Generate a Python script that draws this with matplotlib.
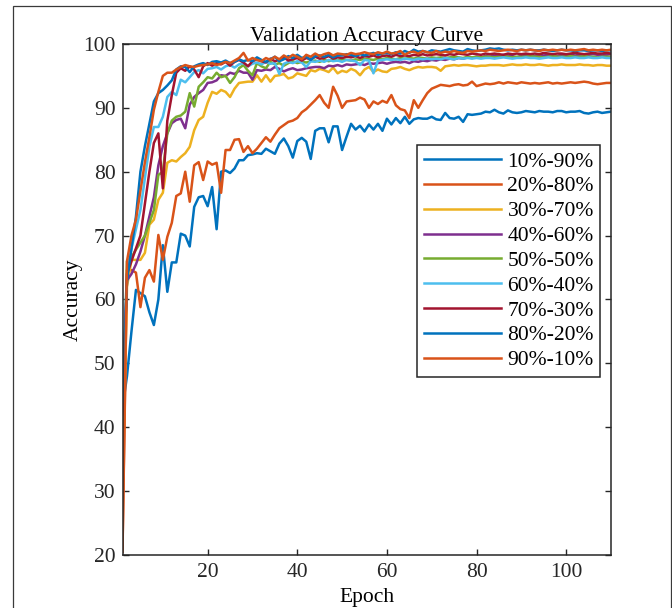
import numpy as np
import matplotlib
matplotlib.use("Agg")
import matplotlib.pyplot as plt
from matplotlib.patches import Rectangle

plt.rcParams['font.family'] = ['Liberation Serif', 'DejaVu Serif']

# validation accuracy per epoch
epochs = np.arange(1, 111)

acc_10_90 = [
    43.0, 48.0, 55.0, 61.5, 61.0, 60.5, 58.0, 56.0, 60.0, 68.5,
    61.2, 65.8, 65.8, 70.3, 70.0, 68.3, 74.5, 76.0, 76.2, 74.6,
    77.6, 71.0, 80.0, 80.2, 79.8, 80.5, 81.8, 81.8, 82.6, 82.7,
    82.9, 82.8, 83.6, 83.2, 82.8, 84.4, 85.2, 84.0, 82.2, 84.8,
    85.3, 84.7, 82.0, 86.4, 86.8, 86.8, 84.6, 87.1, 87.1, 83.4,
    85.5, 87.5, 86.6, 87.2, 86.3, 87.4, 86.6, 87.5, 86.4, 88.3,
    87.4, 88.4, 87.6, 88.6, 87.5, 88.2, 88.4, 88.3, 88.3, 88.6,
    88.2, 88.1, 89.2, 88.4, 88.3, 88.6, 87.8, 89.0, 88.9, 89.0,
    89.1, 89.4, 89.3, 89.7, 89.3, 89.1, 89.6, 89.3, 89.2, 89.3,
    89.5, 89.4, 89.3, 89.5, 89.4, 89.4, 89.3, 89.5, 89.5, 89.3,
    89.4, 89.4, 89.5, 89.2, 89.1, 89.3, 89.4, 89.2, 89.3, 89.4]

acc_20_80 = [
    20.5, 64.6, 64.6, 64.2, 58.8, 63.4, 64.6, 62.8, 70.1, 66.2,
    69.8, 72.0, 76.2, 76.6, 80.0, 75.3, 81.0, 81.5, 78.7, 81.6,
    81.1, 81.4, 76.7, 83.4, 83.4, 85.0, 85.1, 83.1, 84.0, 82.9,
    83.6, 84.5, 85.4, 84.7, 85.8, 86.8, 87.3, 87.8, 88.0, 88.4,
    89.3, 89.8, 90.5, 91.2, 92.0, 90.8, 90.0, 93.3, 91.9, 90.0,
    91.0, 91.1, 91.2, 91.6, 91.3, 90.0, 91.0, 90.6, 91.1, 90.8,
    92.0, 90.4, 89.8, 89.6, 88.4, 91.2, 90.0, 91.2, 92.3, 93.0,
    93.3, 93.6, 93.5, 93.4, 93.6, 93.7, 93.5, 93.6, 94.1, 93.4,
    93.6, 93.8, 93.7, 93.8, 94.0, 93.8, 94.0, 93.9, 93.8, 94.0,
    93.9, 93.8, 93.9, 93.8, 93.9, 94.0, 93.8, 93.9, 93.8, 93.9,
    94.0, 93.9, 94.0, 94.1, 94.0, 93.8, 93.7, 93.8, 93.9, 93.9]

acc_30_70 = [
    30.0, 62.0, 66.2, 66.2, 66.2, 67.3, 71.7, 72.5, 75.6, 76.7,
    81.4, 81.8, 81.6, 82.3, 82.9, 83.9, 86.5, 88.1, 88.6, 90.8,
    92.5, 92.2, 92.8, 92.5, 91.7, 93.0, 93.9, 94.0, 94.1, 94.1,
    95.1, 94.1, 95.1, 94.1, 95.0, 95.1, 95.3, 94.6, 94.8, 95.4,
    95.2, 95.0, 95.9, 95.7, 96.1, 95.9, 95.6, 96.3, 95.4, 95.8,
    95.6, 96.1, 95.8, 95.1, 96.0, 96.4, 95.6, 96.0, 95.7, 95.6,
    96.1, 96.2, 96.4, 96.1, 95.9, 96.2, 96.4, 96.3, 96.4, 96.4,
    96.3, 95.8, 96.5, 96.6, 96.7, 96.6, 96.7, 96.7, 96.6, 96.5,
    96.6, 96.6, 96.7, 96.7, 96.7, 96.6, 96.7, 96.8, 96.7, 96.7,
    96.8, 96.7, 96.7, 96.8, 96.7, 96.6, 96.7, 96.7, 96.8, 96.7,
    96.7, 96.7, 96.8, 96.7, 96.7, 96.6, 96.7, 96.7, 96.6, 96.6]

acc_40_60 = [
    43.0, 63.0, 64.0, 65.5, 67.5, 70.0, 73.0, 76.0, 81.0, 84.0,
    86.0, 87.6, 88.1, 88.3, 86.8, 90.5, 91.7, 92.3, 92.8, 93.9,
    94.0, 94.3, 95.1, 95.0, 95.5, 95.3, 95.8, 95.5, 95.5, 94.4,
    95.9, 95.8, 96.0, 95.9, 96.4, 96.1, 95.7, 96.0, 96.2, 95.9,
    96.0, 96.2, 96.3, 96.4, 96.4, 96.2, 96.6, 96.5, 96.7, 96.5,
    96.8, 96.7, 96.8, 96.9, 96.7, 97.0, 96.9, 97.0, 97.1, 96.9,
    97.1, 97.2, 97.1, 97.2, 97.0, 97.3, 97.2, 97.4, 97.3, 97.5,
    97.4, 97.6, 97.5, 97.7, 97.6, 97.8, 97.7, 97.9, 97.8, 98.0,
    97.9, 98.1, 98.0, 98.2, 98.1, 98.3, 98.2, 98.1, 97.9, 98.2,
    98.3, 98.2, 98.1, 98.3, 98.2, 98.3, 98.2, 98.1, 98.3, 98.2,
    98.3, 98.2, 98.3, 98.2, 98.3, 98.4, 98.3, 98.2, 98.3, 98.4]

acc_50_50 = [
    38.0, 66.0, 66.6, 67.8, 68.9, 70.0, 72.0, 74.0, 79.5, 80.0,
    86.0, 88.0, 88.6, 88.8, 89.4, 92.3, 90.2, 93.3, 94.0, 94.8,
    94.6, 95.5, 94.8, 95.0, 93.9, 94.8, 96.2, 96.7, 95.8, 95.1,
    97.0, 96.5, 96.2, 97.2, 96.8, 97.0, 96.6, 97.0, 97.3, 97.0,
    97.2, 97.1, 97.3, 97.4, 97.2, 97.5, 97.3, 97.5, 97.4, 97.6,
    97.5, 97.4, 97.6, 97.5, 97.7, 97.6, 97.5, 97.7, 97.6, 97.8,
    97.7, 97.6, 97.8, 97.7, 97.8, 97.7, 97.9, 97.8, 97.7, 97.9,
    97.8, 97.9, 97.8, 97.9, 98.0, 97.9, 97.8, 98.0, 97.9, 98.0,
    97.9, 98.0, 98.0, 97.9, 98.0, 98.1, 98.0, 97.9, 98.0, 98.0,
    98.0, 98.1, 98.0, 98.0, 97.9, 98.0, 98.1, 98.0, 98.0, 98.0,
    98.1, 98.0, 98.0, 98.1, 98.0, 98.0, 97.9, 98.0, 98.0, 98.0]

acc_60_40 = [
    47.0, 64.0, 68.0, 71.0, 74.0, 79.0, 83.9, 87.0, 87.0, 88.6,
    91.7, 92.5, 92.0, 94.4, 94.0, 94.8, 95.6, 95.9, 95.4, 96.1,
    96.2, 96.4, 96.0, 96.5, 96.7, 96.3, 96.8, 97.0, 96.5, 96.9,
    97.1, 96.8, 97.2, 96.9, 97.0, 95.3, 96.9, 97.2, 97.0, 97.3,
    97.1, 96.4, 97.3, 97.2, 97.4, 97.2, 97.5, 97.3, 97.4, 97.2,
    97.5, 97.4, 97.3, 96.7, 97.5, 97.4, 95.4, 97.4, 97.5, 97.6,
    97.5, 97.6, 97.5, 97.7, 97.6, 97.5, 97.7, 97.6, 97.7, 97.6,
    97.7, 97.6, 97.8, 97.7, 97.6, 97.8, 97.7, 97.8, 97.7, 97.8,
    97.7, 97.8, 97.8, 97.7, 97.8, 97.9, 97.8, 97.7, 97.8, 97.8,
    97.9, 97.8, 97.8, 97.7, 97.8, 97.9, 97.8, 97.8, 97.9, 97.8,
    97.8, 97.9, 97.8, 97.8, 97.9, 97.8, 97.8, 97.9, 97.8, 97.8]

acc_70_30 = [
    42.0, 64.0, 66.0, 68.0, 70.0, 75.0, 80.0, 84.5, 86.0, 77.4,
    88.0, 92.0, 95.5, 96.2, 95.8, 96.5, 96.0, 94.8, 96.5, 97.0,
    96.6, 97.0, 96.8, 97.2, 96.6, 97.2, 97.5, 97.1, 96.5, 97.3,
    97.6, 97.3, 97.1, 97.7, 97.3, 97.5, 97.9, 97.4, 97.6, 97.8,
    97.4, 97.8, 97.6, 98.0, 97.7, 97.8, 98.1, 97.7, 97.9, 97.8,
    98.0, 97.9, 98.1, 97.8, 98.1, 98.0, 98.2, 97.9, 98.1, 98.2,
    98.0, 98.3, 98.1, 98.2, 98.1, 98.3, 98.2, 98.4, 98.2, 98.3,
    98.4, 98.3, 98.2, 98.4, 98.3, 98.5, 98.4, 98.3, 98.5, 98.4,
    98.3, 98.5, 98.4, 98.5, 98.4, 98.3, 98.5, 98.4, 98.5, 98.4,
    98.5, 98.4, 98.5, 98.4, 98.6, 98.5, 98.4, 98.5, 98.5, 98.4,
    98.5, 98.6, 98.5, 98.4, 98.5, 98.6, 98.5, 98.5, 98.6, 98.5]

acc_80_20 = [
    44.0, 63.0, 68.0, 73.0, 80.0, 84.0, 87.5, 91.0, 92.3, 92.8,
    93.5, 94.3, 96.0, 96.5, 96.4, 95.6, 96.5, 96.8, 97.0, 96.7,
    97.2, 97.3, 97.1, 97.4, 97.0, 97.2, 97.6, 97.3, 97.5, 97.3,
    97.9, 97.5, 97.2, 97.6, 98.0, 97.3, 97.6, 98.1, 97.8, 98.3,
    97.8, 98.0, 97.5, 98.1, 98.2, 98.0, 98.3, 97.9, 98.2, 98.2,
    98.4, 98.3, 98.1, 98.4, 98.2, 98.4, 98.6, 98.3, 98.5, 98.6,
    98.4, 98.7, 98.5, 98.9, 98.6, 99.1, 98.8, 98.9, 98.7, 99.0,
    98.9, 98.8, 99.0, 99.2, 99.0, 98.9, 98.8, 99.2, 99.0, 98.9,
    99.0, 99.1, 99.3, 99.2, 99.3, 99.1, 99.0, 99.1, 99.0, 99.1,
    99.0, 99.1, 99.0, 99.0, 99.1, 99.0, 98.9, 99.0, 99.1, 99.0,
    99.0, 98.9, 99.0, 99.0, 98.9, 99.0, 99.0, 98.9, 99.0, 99.0]

acc_90_10 = [
    21.0, 66.0, 70.0, 72.5, 77.0, 81.5, 85.4, 89.7, 92.5, 95.0,
    95.5, 95.5, 96.0, 96.4, 96.7, 96.5, 96.4, 96.6, 96.7, 96.8,
    97.0, 96.7, 96.9, 97.2, 97.0, 97.4, 97.8, 98.6, 97.4, 97.8,
    97.5, 97.3, 97.8, 97.5, 98.0, 97.6, 98.2, 97.8, 98.3, 98.0,
    97.6, 98.3, 98.0, 98.5, 98.1, 98.4, 98.6, 98.2, 98.5, 98.4,
    98.3, 98.6, 98.4, 98.5, 98.7, 98.5, 98.4, 98.7, 98.5, 98.8,
    98.5, 98.6, 98.9, 98.3, 98.7, 98.8, 98.5, 98.9, 98.7, 98.6,
    98.9, 98.6, 98.8, 98.7, 98.9, 98.7, 98.6, 98.9, 98.8, 98.9,
    99.0, 98.9, 99.1, 99.0, 98.9, 99.0, 99.1, 99.0, 98.9, 99.1,
    99.0, 99.1, 99.0, 98.9, 99.1, 99.0, 99.1, 99.0, 99.1, 99.0,
    99.1, 99.0, 99.1, 99.2, 99.0, 99.1, 99.0, 99.1, 99.0, 99.1]

labels = ['10%-90%', '20%-80%', '30%-70%', '40%-60%', '50%-50%',
          '60%-40%', '70%-30%', '80%-20%', '90%-10%']
series = [acc_10_90, acc_20_80, acc_30_70, acc_40_60, acc_50_50,
          acc_60_40, acc_70_30, acc_80_20, acc_90_10]

# MATLAB default colour order (wraps after seven)
colors = ['#0072BD', '#D95319', '#EDB120', '#7E2F8E', '#77AC30',
          '#4DBEEE', '#A2142F', '#0072BD', '#D95319']

fs = 15.5

fig = plt.figure(figsize=(6.72, 6.08), dpi=100)
ax = fig.add_axes([0.1823, 0.0872, 0.7269, 0.8405])

for vals, lab, col in zip(series, labels, colors):
    ax.plot(epochs, vals, color=col, linewidth=1.8, label=lab)

ax.set_xlim(1, 110)
ax.set_ylim(20, 100)
ax.set_xticks([20, 40, 60, 80, 100])
ax.set_yticks(np.arange(20, 101, 10))

ax.tick_params(direction='in', top=True, right=True, length=4.5, width=1.0,
               labelsize=fs, colors='#262626', pad=5)
ax.tick_params(axis='x', pad=6)
for sp in ax.spines.values():
    sp.set_linewidth(1.1)
    sp.set_color('#262626')

ax.set_title('Validation Accuracy Curve', fontsize=fs, pad=2)
ax.set_xlabel('Epoch', fontsize=fs, labelpad=4)
ax.set_ylabel('Accuracy', fontsize=fs, labelpad=0)

leg = ax.legend(loc='upper left', bbox_to_anchor=(0.603, 0.802),
                fontsize=fs, handlelength=3.6, handletextpad=0.3,
                labelspacing=0.22, borderpad=0.3, borderaxespad=0,
                fancybox=False, framealpha=1, edgecolor='#262626')
leg.get_frame().set_linewidth(1.1)

# thin outer frame around the figure
fig.patches.append(Rectangle((13 / 672, -0.05), 658 / 672, 1 - 6 / 608 + 0.05,
                             transform=fig.transFigure, fill=False,
                             edgecolor='#3a3a3a', linewidth=0.9))

fig.savefig('out.png', dpi=100)
